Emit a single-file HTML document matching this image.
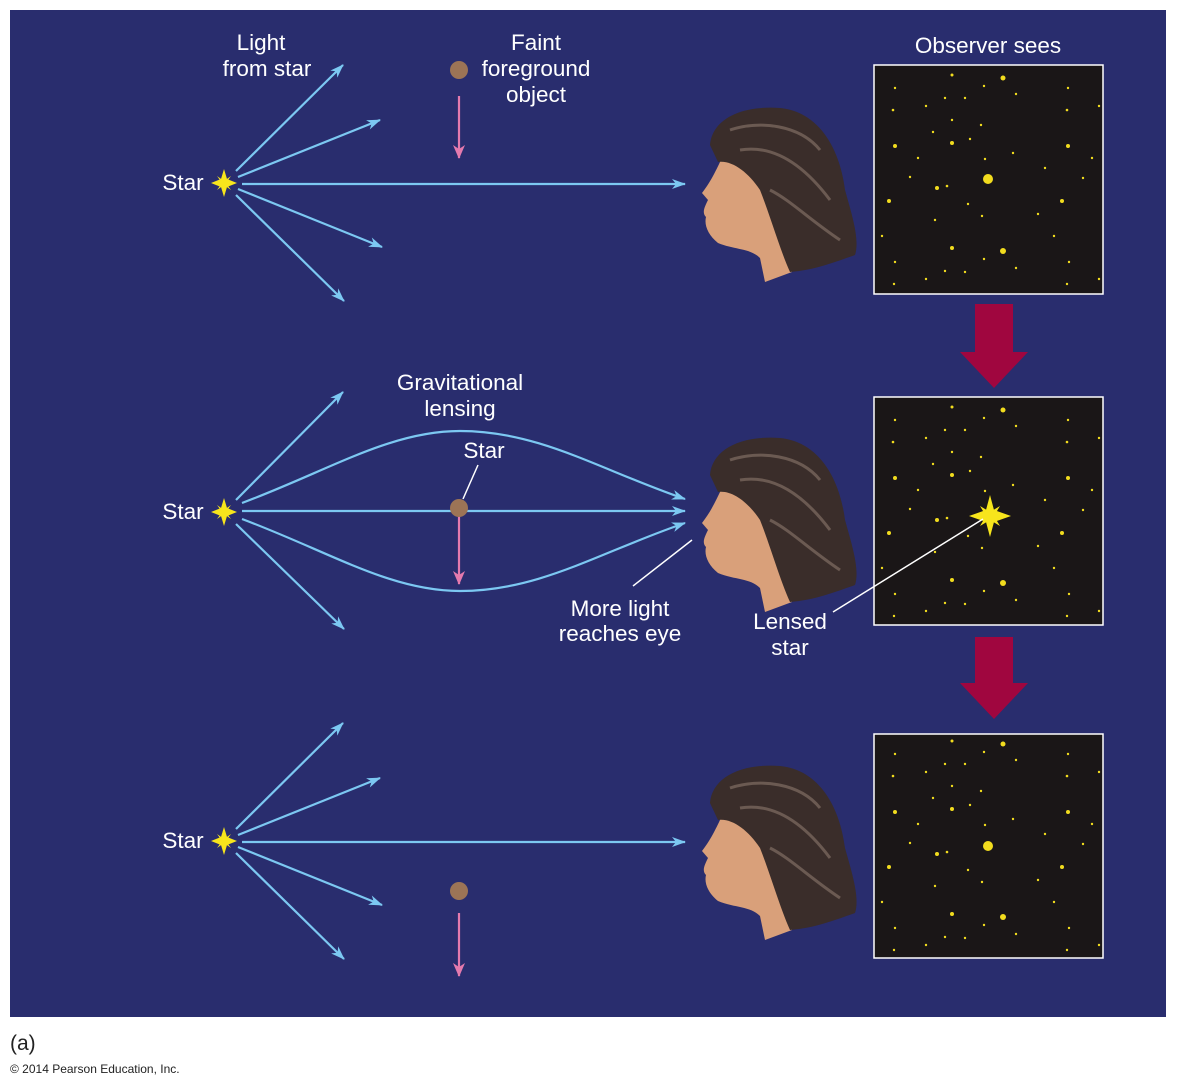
<!DOCTYPE html>
<html><head><meta charset="utf-8"><style>
html,body{margin:0;padding:0;background:#fff;width:1177px;height:1088px;overflow:hidden}
svg{display:block}
text{font-family:"Liberation Sans",Arial,sans-serif;fill:#fff}
</style></head><body>
<svg width="1177" height="1088" viewBox="0 0 1177 1088" xmlns="http://www.w3.org/2000/svg">
<defs>
<marker id="ab" markerWidth="14" markerHeight="10" refX="13" refY="5" orient="auto" markerUnits="userSpaceOnUse">
<path d="M0,0 L14,5 L0,10 L4,5 Z" fill="#7cc8f2"/></marker>
<marker id="ap" markerWidth="14" markerHeight="12" refX="13" refY="6" orient="auto" markerUnits="userSpaceOnUse">
<path d="M0,0 L14,6 L0,12 L4,6 Z" fill="#e47aae"/></marker>
<g id="star"><path d="M0,-14 L3,-4 L13,0 L3,4 L0,14 L-3,4 L-13,0 L-3,-4 Z" fill="#f7e51c"/><path d="M-7,-7 L0,-2 L7,-7 L2,0 L7,7 L0,2 L-7,7 L-2,0 Z" fill="#f7e51c"/></g>
<g id="fan" stroke="#7cc8f2" stroke-width="2.2" fill="none">
<line x1="12" y1="-12" x2="119" y2="-118" marker-end="url(#ab)"/>
<line x1="14" y1="-6" x2="156" y2="-63" marker-end="url(#ab)"/>
<line x1="14" y1="6" x2="158" y2="64" marker-end="url(#ab)"/>
<line x1="12" y1="12" x2="120" y2="118" marker-end="url(#ab)"/>
</g>
<g id="head">
<path d="M722,158 C716,170 712,180 702,193 L708,200 C704,208 702,213 706,217 C704,225 708,235 718,243 C735,250 750,248 760,258 L765,282 L792,272 C785,240 770,200 755,180 C745,165 730,158 722,158 Z" fill="#d9a07a"/>
<path d="M710,145 C712,120 740,105 780,108 C820,112 840,150 845,190 C852,215 860,240 855,255 C835,262 815,270 790,272 C780,250 770,215 760,190 C748,172 732,160 718,162 Z" fill="#3a2d2a"/>
<path d="M730,130 C760,120 800,125 820,150 M740,150 C770,145 800,160 830,200 M770,190 C790,200 810,220 840,240" stroke="#6b5a52" stroke-width="3" fill="none"/>
</g>
<g id="field" fill="#f2dc1e">
<circle cx="78" cy="10" r="1.5"/><circle cx="129" cy="13" r="2.5"/><circle cx="21" cy="23" r="1.2"/><circle cx="110" cy="21" r="1.2"/><circle cx="142" cy="29" r="1.2"/><circle cx="194" cy="23" r="1.2"/><circle cx="71" cy="33" r="1.2"/><circle cx="91" cy="33" r="1.2"/><circle cx="19" cy="45" r="1.3"/><circle cx="52" cy="41" r="1.2"/><circle cx="193" cy="45" r="1.3"/><circle cx="225" cy="41" r="1.2"/><circle cx="78" cy="55" r="1.2"/><circle cx="107" cy="60" r="1.2"/><circle cx="59" cy="67" r="1.2"/><circle cx="21" cy="81" r="2"/><circle cx="78" cy="78" r="2"/><circle cx="96" cy="74" r="1.2"/><circle cx="139" cy="88" r="1.2"/><circle cx="194" cy="81" r="2"/><circle cx="44" cy="93" r="1.2"/><circle cx="218" cy="93" r="1.2"/><circle cx="111" cy="94" r="1.2"/><circle cx="36" cy="112" r="1.2"/><circle cx="171" cy="103" r="1.2"/><circle cx="209" cy="113" r="1.2"/><circle cx="63" cy="123" r="2"/><circle cx="73" cy="121" r="1.3"/><circle cx="15" cy="136" r="2"/><circle cx="188" cy="136" r="2"/><circle cx="94" cy="139" r="1.2"/><circle cx="108" cy="151" r="1.2"/><circle cx="61" cy="155" r="1.2"/><circle cx="164" cy="149" r="1.2"/><circle cx="8" cy="171" r="1.2"/><circle cx="180" cy="171" r="1.2"/><circle cx="78" cy="183" r="2"/><circle cx="129" cy="186" r="3"/><circle cx="21" cy="197" r="1.2"/><circle cx="110" cy="194" r="1.2"/><circle cx="142" cy="203" r="1.2"/><circle cx="195" cy="197" r="1.2"/><circle cx="71" cy="206" r="1.2"/><circle cx="91" cy="207" r="1.2"/><circle cx="52" cy="214" r="1.2"/><circle cx="20" cy="219" r="1.2"/><circle cx="193" cy="219" r="1.2"/><circle cx="225" cy="214" r="1.2"/>
</g>
</defs>
<rect x="10" y="10" width="1156" height="1007" fill="#292d6e"/>

<text x="261" y="50" font-size="22.5" text-anchor="middle">Light</text>
<text x="267" y="76" font-size="22.5" text-anchor="middle">from star</text>
<text x="536" y="50" font-size="22.5" text-anchor="middle">Faint</text>
<text x="536" y="76" font-size="22.5" text-anchor="middle">foreground</text>
<text x="536" y="102" font-size="22.5" text-anchor="middle">object</text>
<text x="988" y="53" font-size="22.5" text-anchor="middle">Observer sees</text>
<text x="183" y="190" font-size="22.5" text-anchor="middle">Star</text>
<g transform="translate(224,183)"><use href="#fan"/><use href="#star"/></g>
<line x1="242" y1="184" x2="685" y2="184" stroke="#7cc8f2" stroke-width="2.2" marker-end="url(#ab)"/>
<circle cx="459" cy="70" r="9" fill="#9c7456"/>
<line x1="459" y1="96" x2="459" y2="158" stroke="#e47aae" stroke-width="2.2" marker-end="url(#ap)"/>
<use href="#head"/>

<text x="460" y="390" font-size="22.5" text-anchor="middle">Gravitational</text>
<text x="460" y="416" font-size="22.5" text-anchor="middle">lensing</text>
<text x="484" y="458" font-size="22.5" text-anchor="middle">Star</text>
<line x1="478" y1="465" x2="463" y2="499" stroke="#fff" stroke-width="1.5"/>
<text x="183" y="519" font-size="22.5" text-anchor="middle">Star</text>
<g transform="translate(224,512)">
<line x1="12" y1="-12" x2="119" y2="-120" stroke="#7cc8f2" stroke-width="2.2" marker-end="url(#ab)"/>
<line x1="12" y1="12" x2="120" y2="117" stroke="#7cc8f2" stroke-width="2.2" marker-end="url(#ab)"/>
<use href="#star"/></g>
<g stroke="#7cc8f2" stroke-width="2.2" fill="none">
<path d="M242,503 C330,470 390,431 460,431 C540,431 600,470 685,499" marker-end="url(#ab)"/>
<line x1="242" y1="511" x2="685" y2="511" marker-end="url(#ab)"/>
<path d="M242,519 C330,552 390,591 460,591 C540,591 600,552 685,523" marker-end="url(#ab)"/>
</g>
<line x1="459" y1="512" x2="459" y2="584" stroke="#e47aae" stroke-width="2.2" marker-end="url(#ap)"/>
<circle cx="459" cy="508" r="9" fill="#9c7456"/>
<use href="#head" transform="translate(0,330)"/>
<line x1="633" y1="586" x2="692" y2="540" stroke="#fff" stroke-width="1.5"/>
<text x="620" y="616" font-size="22.5" text-anchor="middle">More light</text>
<text x="620" y="641" font-size="22.5" text-anchor="middle">reaches eye</text>
<text x="790" y="629" font-size="22.5" text-anchor="middle">Lensed</text>
<text x="790" y="655" font-size="22.5" text-anchor="middle">star</text>

<text x="183" y="848" font-size="22.5" text-anchor="middle">Star</text>
<g transform="translate(224,841)"><use href="#fan"/><use href="#star"/></g>
<line x1="242" y1="842" x2="685" y2="842" stroke="#7cc8f2" stroke-width="2.2" marker-end="url(#ab)"/>
<circle cx="459" cy="891" r="9" fill="#9c7456"/>
<line x1="459" y1="913" x2="459" y2="976" stroke="#e47aae" stroke-width="2.2" marker-end="url(#ap)"/>
<use href="#head" transform="translate(0,658)"/>

<g stroke="#fff" stroke-width="1.5" fill="#1a1617">
<rect x="874" y="65" width="229" height="229"/>
<rect x="874" y="397" width="229" height="228"/>
<rect x="874" y="734" width="229" height="224"/>
</g>
<use href="#field" transform="translate(874,65)"/>
<use href="#field" transform="translate(874,397)"/>
<use href="#field" transform="translate(874,731)"/>
<circle cx="988" cy="179" r="5" fill="#f2dc1e"/>
<circle cx="988" cy="846" r="5" fill="#f2dc1e"/>
<path d="M990,495 L994,510 L1011,516 L994,522 L990,537 L986,522 L969,516 L986,510 Z" fill="#f7e51c"/>
<path d="M980,506 L990,512 L1000,506 L994,516 L1000,526 L990,520 L980,526 L986,516 Z" fill="#f7e51c"/>
<line x1="833" y1="612" x2="983" y2="519" stroke="#fff" stroke-width="1.5"/>

<path d="M975,304 H1013 V352 H1028 L994,388 L960,352 H975 Z" fill="#a0063f"/>
<path d="M975,637 H1013 V683 H1028 L994,719 L960,683 H975 Z" fill="#a0063f"/>

<text x="10" y="1050" font-size="21" style="fill:#222">(a)</text>
<text x="10" y="1073" font-size="12" style="fill:#222">© 2014 Pearson Education, Inc.</text>
</svg>
</body></html>
